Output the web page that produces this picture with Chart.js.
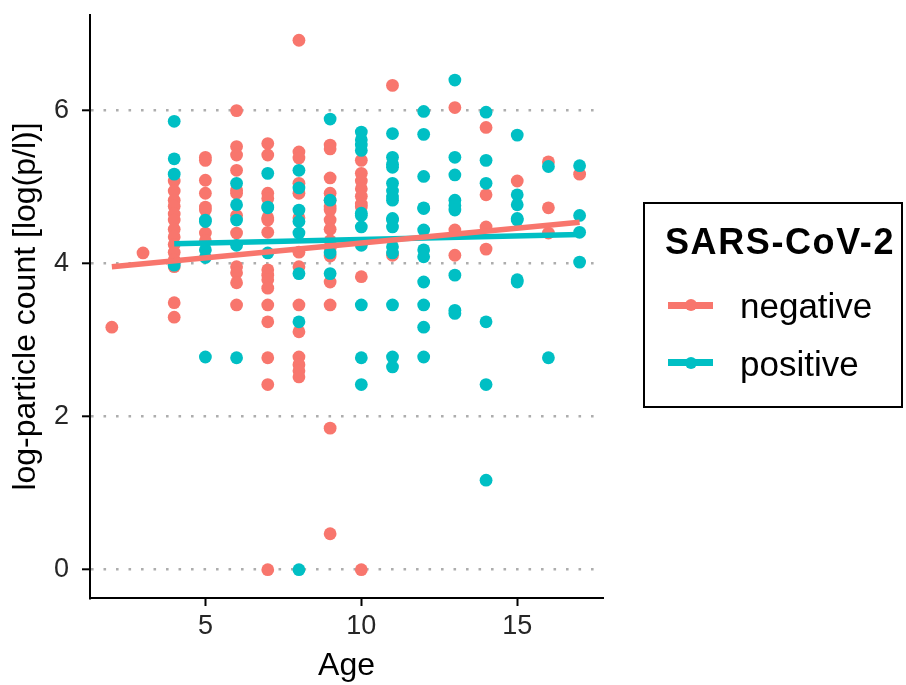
<!DOCTYPE html>
<html><head><meta charset="utf-8">
<script src="https://cdn.jsdelivr.net/npm/chart.js@4/dist/chart.umd.min.js"></script>
<style>
html,body{margin:0;padding:0;background:#fff;}
#wrap{position:relative;width:906px;height:685px;font-family:"Liberation Sans",Arial,sans-serif;}
#legend{position:absolute;left:643px;top:202px;width:256px;height:202px;border:2px solid #000;box-sizing:content-box;}
#legend .title{position:absolute;left:20px;top:20px;font-size:36px;line-height:36px;font-weight:bold;color:#000;white-space:nowrap;letter-spacing:1.6px;}
#legend .sym{position:absolute;left:23px;width:45px;height:7px;}
#legend .dot{position:absolute;left:40px;width:12px;height:12px;border-radius:50%;}
#legend .lab{position:absolute;left:95px;font-size:35px;line-height:35px;color:#000;white-space:nowrap;}
</style></head>
<body><div id="wrap"><canvas id="c" width="906" height="685"></canvas>
<div id="legend"><div class="title">SARS-CoV-2</div>
<div class="sym" style="top:97.5px;background:#F8766D"></div><div class="dot" style="top:95px;background:#F8766D"></div><div class="lab" style="top:83.5px">negative</div>
<div class="sym" style="top:155px;background:#00BFC4"></div><div class="dot" style="top:152.5px;background:#00BFC4"></div><div class="lab" style="top:141.5px">positive</div>
</div></div>
<script>
const seriesNames = ["negative", "positive"];
const xTicks = [5, 10, 15];
const yTicks = [0, 2, 4, 6];
// negative: age and log-particle count
const negAge = [2,3,
 4,4,4,4,4,4,4,4,4,4,4,4,4,4,
 5,5,5,5,5,5,5,5,
 6,6,6,6,6,6,6,6,6,6,6,6,
 7,7,7,7,7,7,7,7,7,7,7,7,7,7,7,7,
 8,8,8,8,8,8,8,8,8,8,8,8,8,8,
 9,9,9,9,9,9,9,9,9,9,9,9,9,9,9,9,
 10,10,10,10,10,10,10,10,10,
 11,11,
 13,13,13,
 14,14,14,14,
 15,
 16,16,16,
 17];
const negLog = [3.17,4.14,
 5.08,4.95,4.83,4.75,4.65,4.57,4.45,4.35,4.25,4.15,4.05,3.96,3.49,3.30,
 5.39,5.35,5.09,4.92,4.74,4.70,4.40,4.30,
 6.00,5.53,5.42,5.22,4.96,4.92,4.63,4.40,3.96,3.88,3.75,3.46,
 5.57,5.42,4.92,4.85,4.60,4.57,4.41,3.92,3.85,3.79,3.68,3.46,3.24,2.77,2.42,0,
 6.92,5.46,5.38,5.05,4.92,4.60,4.15,3.96,3.46,3.11,2.78,2.68,2.60,2.52,
 5.55,5.50,5.12,4.92,4.83,4.74,4.70,4.57,4.45,4.30,4.20,4.10,3.76,3.46,1.85,0.47,
 5.35,5.18,5.08,4.98,4.88,4.78,4.74,3.83,0,
 6.33,4.11,
 6.04,4.44,4.11,
 5.78,4.90,4.48,4.19,
 5.08,
 5.33,4.73,4.40,
 5.17];
// positive: age and log-particle count
const posAge = [4,4,4,4,
 5,5,5,5,5,
 6,6,6,6,6,
 7,7,7,7,
 8,8,8,8,8,8,8,8,
 9,9,9,9,
 10,10,10,10,10,10,10,10,10,10,10,
 11,11,11,11,11,11,11,11,11,11,11,11,11,11,11,11,
 12,12,12,12,12,12,12,12,12,12,12,12,
 13,13,13,13,13,13,13,13,13,
 14,14,14,14,14,14,
 15,15,15,15,15,15,15,
 16,16,
 17,17,17,17];
const posLog = [5.86,5.37,5.17,3.98,
 4.57,4.55,4.18,4.08,2.78,
 5.05,4.77,4.57,4.24,2.77,
 5.18,4.73,4.74,4.14,
 5.22,4.99,4.70,4.55,4.40,3.87,3.24,0,
 5.89,4.83,4.14,3.87,
 5.72,5.62,5.55,5.48,4.66,4.63,4.48,4.24,3.46,2.77,2.42,
 5.70,5.39,5.30,5.26,5.05,4.95,4.87,4.83,4.59,4.57,4.48,4.22,4.14,3.46,2.78,2.65,
 5.99,5.69,5.14,4.73,4.72,4.44,4.18,4.09,3.76,3.46,3.17,2.78,
 6.40,5.39,5.16,4.83,4.76,4.70,3.85,3.39,3.35,
 5.98,5.35,5.05,3.24,2.42,1.17,
 5.68,4.90,4.77,4.59,4.57,3.79,3.76,
 5.27,2.77,
 5.28,4.63,4.41,4.02];
// fitted regression lines (endpoints)
const negFitAge = [2, 17];
const negFitLog = [3.96, 4.54];
const posFitAge = [4, 17];
const posFitLog = [4.26, 4.38];

const RED = '#F8766D', CYAN = '#00BFC4';
const pts = (xs, ys) => xs.map((x, i) => ({x: x, y: ys[i]}));

new Chart(document.getElementById('c'), {
  type: 'scatter',
  data: {datasets: [
    {label: seriesNames[0] + ' fit', type: 'line', data: pts(negFitAge, negFitLog), borderColor: RED, borderWidth: 5.5, pointRadius: 0, fill: false, borderCapStyle: 'butt'},
    {label: seriesNames[1] + ' fit', type: 'line', data: pts(posFitAge, posFitLog), borderColor: CYAN, borderWidth: 5.5, pointRadius: 0, fill: false, borderCapStyle: 'butt'},
    {label: seriesNames[1], data: pts(posAge, posLog), backgroundColor: CYAN, borderWidth: 0, pointRadius: 6.4},
    {label: seriesNames[0], data: pts(negAge, negLog), backgroundColor: RED, borderWidth: 0, pointRadius: 6.4}
  ]},
  options: {
    responsive: false, animation: false, devicePixelRatio: 1,
    layout: {padding: {left: 0, right: 303, top: 15, bottom: 0}},
    plugins: {legend: {display: false}, tooltip: {enabled: false}},
    scales: {
      x: {type: 'linear', min: 1.3, max: 17.75,
        afterBuildTicks: s => { s.ticks = xTicks.map(v => ({value: v})); },
        afterFit: s => { s.height = 87; s.paddingLeft = 0; s.paddingRight = 0; },
        grid: {drawOnChartArea: false, drawTicks: true, tickLength: 8, tickColor: '#000', tickWidth: 2},
        border: {display: true, color: '#000', width: 2},
        ticks: {color: '#262626', font: {family: 'Liberation Sans', size: 27}, padding: 4},
        title: {display: true, text: 'Age', color: '#000', font: {family: 'Liberation Sans', size: 32}, padding: {top: 1, bottom: 0}}
      },
      y: {type: 'linear', min: -0.37, max: 7.25,
        afterBuildTicks: s => { s.ticks = yTicks.map(v => ({value: v})); },
        afterFit: s => { s.width = 90; s.paddingTop = 0; s.paddingBottom = 0; },
        grid: {drawOnChartArea: true, color: '#ADADAD', lineWidth: 2.6, drawTicks: true, tickLength: 8, tickColor: '#000', tickWidth: 2, tickBorderDash: []},
        border: {display: true, color: '#000', width: 2, dash: [2.6, 9.9]},
        ticks: {color: '#262626', font: {family: 'Liberation Sans', size: 27}, padding: 13},
        title: {display: true, text: 'log-particle count [log(p/l)]', color: '#000', font: {family: 'Liberation Sans', size: 32}, padding: {top: 7, bottom: 0}}
      }
    }
  }
});
</script></body></html>
